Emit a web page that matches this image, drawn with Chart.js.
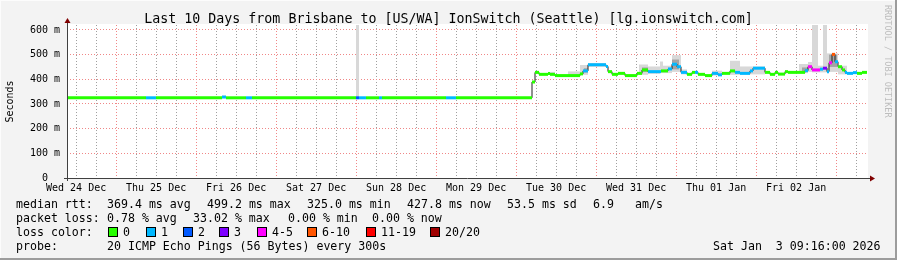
<!DOCTYPE html>
<html>
<head>
<meta charset="utf-8">
<script src="https://cdn.jsdelivr.net/npm/chart.js@4/dist/chart.umd.min.js"></script>
<style>
  body { margin: 0; background: #f3f3f3; }
  #wrap { position: relative; width: 897px; height: 260px; background: #f3f3f3; overflow: hidden; }
  #chart { position: absolute; left: 0; top: 0; }
  .t { position: absolute; font-family: 'DejaVu Sans Mono', monospace; color: #000; white-space: pre; }
  .leg { font-size: 11.6px; line-height: 14px; }
  .sw { position: absolute; width: 8px; height: 8px; border: 1px solid #000; }
  #mark { position: absolute; left: 881px; top: 5px; font-family: 'DejaVu Sans Mono', monospace;
          font-size: 8.5px; color: #bdbdbd; white-space: pre; transform-origin: 0 0; transform: translate(12px, 0) rotate(90deg); }
  #edgeR { position: absolute; right: 0; top: 0; width: 2px; height: 260px; background: #9c9c9c; }
  #edgeB { position: absolute; left: 0; bottom: 0; width: 897px; height: 2px; background: #9c9c9c; }
  #edgeT { position: absolute; left: 0; top: 0; width: 895px; height: 1px; background: #fcfcfc; }
  #edgeL { position: absolute; left: 0; top: 0; width: 1px; height: 258px; background: #fcfcfc; }
</style>
</head>
<body>
<div id="wrap">
  <canvas id="chart" width="897" height="260"></canvas>
  <div class="t" style="left:0;top:11px;width:897px;text-align:center;font-size:13.3px;line-height:16px">Last 10 Days from Brisbane to [US/WA] IonSwitch (Seattle) [lg.ionswitch.com]</div>
  <div id="mark">RRDTOOL / TOBI OETIKER</div>

  <div class="t leg" style="left:16px;top:197px">median rtt:</div>
  <div class="t leg" style="left:107px;top:197px">369.4 ms avg</div>
  <div class="t leg" style="left:207px;top:197px">499.2 ms max</div>
  <div class="t leg" style="left:307px;top:197px">325.0 ms min</div>
  <div class="t leg" style="left:407px;top:197px">427.8 ms now</div>
  <div class="t leg" style="left:507px;top:197px">53.5 ms sd</div>
  <div class="t leg" style="left:593px;top:197px">6.9</div>
  <div class="t leg" style="left:635px;top:197px">am/s</div>

  <div class="t leg" style="left:16px;top:211px">packet loss:</div>
  <div class="t leg" style="left:107px;top:211px">0.78 % avg</div>
  <div class="t leg" style="left:193px;top:211px">33.02 % max</div>
  <div class="t leg" style="left:288px;top:211px">0.00 % min</div>
  <div class="t leg" style="left:372px;top:211px">0.00 % now</div>

  <div class="t leg" style="left:16px;top:225px">loss color:</div>
  <div id="lossLegend"></div>

  <div class="t leg" style="left:16px;top:239px">probe:</div>
  <div class="t leg" style="left:107px;top:239px">20 ICMP Echo Pings (56 Bytes) every 300s</div>
  <div class="t leg" style="left:713px;top:239px">Sat Jan  3 09:16:00 2026</div>

  <div id="edgeT"></div><div id="edgeL"></div><div id="edgeR"></div><div id="edgeB"></div>
</div>
<script>
// time axis: hours since Wed 24 Dec 09:16, 10 days shown
const dayLabels = ['Wed 24 Dec', 'Thu 25 Dec', 'Fri 26 Dec', 'Sat 27 Dec', 'Sun 28 Dec',
                   'Mon 29 Dec', 'Tue 30 Dec', 'Wed 31 Dec', 'Thu 01 Jan', 'Fri 02 Jan'];
const firstNoon = 2.73;
const spanHours = 240;

const lossLabels = ['0', '1', '2', '3', '4-5', '6-10', '11-19', '20/20'];
const lossColors = ['#26ff00', '#00b8ff', '#0059ff', '#7e00ff', '#ff00ff', '#ff5500', '#ff0000', '#a00000'];

// median rtt (ms) steps: start hour, value, lost pings out of 20
const medTimes = [0, 23.7, 26.7, 46.5, 47.7, 53.7, 55.5, 86.7, 87.6, 89.7, 93.6, 94.5, 113.7, 116.7,
  139.5, 140.4, 141.6, 144.3, 144.9, 146.4, 153.9, 154.8, 156.3, 161.7, 162.3, 163.5, 165.3, 167.4,
  171.0, 172.5, 174.3, 178.2, 180.3, 181.5, 183.0, 184.2, 186.0, 187.5, 188.4, 189.3, 191.4, 193.5,
  195.3, 196.5, 198.9, 200.4, 201.9, 204.9, 205.8, 209.4, 210.9, 212.4, 213.3, 215.4, 216.3, 221.4,
  222.3, 223.5, 225.9, 226.8, 228.0, 228.6, 229.5, 230.4, 231.3, 232.5, 233.4, 234.0, 235.8, 237.0, 238.5];
const medValues = [325, 325, 325, 328, 325, 325, 325, 325, 325, 325, 325, 325, 325, 325,
  389, 428, 420, 423, 420, 415, 422, 434, 459, 452, 431, 420, 424, 415,
  424, 438, 431, 434, 442, 461, 451, 428, 420, 428, 428, 420, 415, 424,
  418, 424, 434, 428, 424, 434, 445, 428, 420, 428, 421, 431, 428, 435,
  451, 438, 441, 445, 431, 467, 501, 471, 451, 438, 428, 424, 427, 424, 428];
const medLoss = [0, 1, 0, 1, 0, 1, 0, 2, 1, 0, 1, 0, 1, 0,
  0, 0, 0, 0, 0, 0, 0, 1, 1, 1, 0, 0, 0, 0,
  0, 0, 1, 0, 1, 1, 1, 1, 0, 0, 1, 0, 0, 1,
  1, 0, 0, 1, 1, 1, 1, 0, 0, 0, 0, 0, 0, 1,
  4, 4, 1, 3, 1, 4, 7, 1, 0, 0, 1, 1, 1, 0, 0];

// smoke (spread of the 20 pings), outer light band
const smokeStart = [46.5, 86.7, 144.3, 150.3, 153.9, 156.3, 171.6, 174.3, 177.9, 178.8, 181.5, 184.2,
  193.5, 198.9, 201.9, 219.6, 222.3, 223.5, 225.3, 226.8, 228.0, 231.3];
const smokeEnd = [47.7, 87.6, 146.4, 153.9, 156.3, 161.7, 174.3, 177.9, 178.8, 181.5, 184.2, 186.0,
  196.5, 201.9, 209.4, 222.3, 223.5, 225.3, 226.8, 228.0, 231.3, 234.0];
const smokeLow = [325, 325, 418, 414, 418, 450, 418, 422, 425, 425, 430, 420,
  415, 418, 420, 425, 430, 428, 428, 428, 430, 420];
const smokeHigh = [334, 640, 430, 432, 458, 466, 460, 452, 472, 455, 498, 440,
  435, 475, 452, 462, 470, 640, 455, 640, 505, 455];

// smoke, inner dark band
const coreStart = [46.5, 155.0, 172.5, 181.5, 220.5, 228.6];
const coreEnd = [47.7, 156.3, 174.3, 183.6, 222.3, 231.0];
const coreLow = [326, 428, 430, 440, 432, 450];
const coreHigh = [332, 445, 448, 480, 448, 500];

function lossClass(n) {
  if (n <= 3) return n;
  if (n <= 5) return 4;
  if (n <= 10) return 5;
  if (n <= 19) return 6;
  return 7;
}

function blocks(starts, ends, vals) {
  const pts = [];
  for (let i = 0; i < starts.length; i++) {
    pts.push({x: starts[i], y: vals[i]}, {x: ends[i], y: vals[i]}, {x: ends[i], y: null});
  }
  return pts;
}

const medEnds = medTimes.slice(1).concat([spanHours]);
const medBlocks = blocks(medTimes, medEnds, medValues);
const medLine = medTimes.map((t, i) => ({x: t, y: medValues[i]})).concat([{x: spanHours, y: medValues[medValues.length - 1]}]);

document.getElementById('lossLegend').innerHTML = lossLabels.map((l, i) => {
  const sx = [108, 146, 183, 219, 257, 307, 366, 430][i];
  return '<div class="sw" style="left:' + sx + 'px;top:227px;background:' + lossColors[i] + '"></div>' +
         '<div class="t leg" style="left:' + (sx + 15) + 'px;top:225px">' + l + '</div>';
}).join('');

const majorGrid = 'rgb(240,135,135)';
const minorGrid = 'rgb(160,160,160)';

const plotBg = {
  id: 'plotBg',
  beforeDraw(chart) {
    const {ctx, chartArea: a} = chart;
    ctx.save();
    ctx.fillStyle = '#ffffff';
    ctx.fillRect(a.left, a.top - 1, a.right - a.left + 1, a.bottom - a.top + 1);
    ctx.restore();
  }
};

const arrows = {
  id: 'arrows',
  afterDraw(chart) {
    const {ctx, chartArea: a} = chart;
    const x0 = Math.round(a.left) + 0.5, y0 = Math.round(a.bottom) + 0.5;
    ctx.save();
    ctx.strokeStyle = '#404040';
    ctx.lineWidth = 1;
    ctx.beginPath();
    ctx.moveTo(x0, a.bottom + 3); ctx.lineTo(x0, a.top - 3);
    ctx.moveTo(a.left - 3, y0); ctx.lineTo(a.right + 4, y0);
    ctx.stroke();
    ctx.fillStyle = '#800000';
    ctx.beginPath();
    ctx.moveTo(x0 - 3, a.top - 2); ctx.lineTo(x0 + 3, a.top - 2); ctx.lineTo(x0, a.top - 7); ctx.closePath();
    ctx.fill();
    ctx.beginPath();
    ctx.moveTo(a.right + 3, y0 - 3); ctx.lineTo(a.right + 3, y0 + 3); ctx.lineTo(a.right + 8, y0); ctx.closePath();
    ctx.fill();
    ctx.restore();
  }
};

Chart.defaults.font.family = "'DejaVu Sans Mono', monospace";
Chart.defaults.color = '#000';

new Chart(document.getElementById('chart'), {
  type: 'line',
  data: {
    datasets: [
      {
        data: medBlocks,
        borderWidth: 3,
        borderCapStyle: 'butt',
        borderColor: '#26ff00',
        segment: { borderColor: ctx => lossColors[lossClass(medLoss[Math.floor(ctx.p0DataIndex / 3)])] },
        pointRadius: 0,
        spanGaps: false,
        fill: false
      },
      {
        data: medLine,
        stepped: true,
        borderWidth: 1,
        borderColor: '#202020',
        pointRadius: 0,
        fill: false
      },
      {
        data: blocks(coreStart, coreEnd, coreHigh),
        borderWidth: 0, pointRadius: 0, spanGaps: false,
        backgroundColor: '#a4a4a4', fill: '+1'
      },
      {
        data: blocks(coreStart, coreEnd, coreLow),
        borderWidth: 0, pointRadius: 0, spanGaps: false, fill: false
      },
      {
        data: blocks(smokeStart, smokeEnd, smokeHigh),
        borderWidth: 0, pointRadius: 0, spanGaps: false,
        backgroundColor: '#d8d8d8', fill: '+1'
      },
      {
        data: blocks(smokeStart, smokeEnd, smokeLow),
        borderWidth: 0, pointRadius: 0, spanGaps: false, fill: false
      }
    ]
  },
  options: {
    responsive: false,
    animation: false,
    devicePixelRatio: 1,
    layout: { padding: { left: 0, top: 25, right: 30, bottom: 62 } },
    plugins: { legend: { display: false }, tooltip: { enabled: false } },
    scales: {
      x: {
        type: 'linear',
        min: 0,
        max: spanHours,
        afterFit(scale) { scale.height = 20; },
        afterBuildTicks(scale) {
          const ticks = [];
          for (let k = 0; firstNoon + 6 * k < spanHours; k++) ticks.push({value: firstNoon + 6 * k});
          scale.ticks = ticks;
        },
        ticks: {
          autoSkip: false,
          maxRotation: 0,
          padding: 4,
          font: { size: 10 },
          callback: (v, i) => (i % 4 === 0 ? dayLabels[i / 4] : '')
        },
        grid: {
          drawTicks: false,
          color: ctx => (ctx.index % 4 === 2 ? majorGrid : minorGrid)
        },
        border: { display: false, dash: [1, 2] }
      },
      y: {
        min: 0,
        max: 620,
        afterFit(scale) { scale.width = 67; },
        afterBuildTicks(scale) {
          const ticks = [];
          for (let v = 0; v <= 600; v += 50) ticks.push({value: v});
          scale.ticks = ticks;
        },
        ticks: {
          padding: 7,
          font: { size: 10 },
          callback: v => (v % 100 === 0 ? (v === 0 ? '0  ' : v + ' m') : '')
        },
        grid: {
          drawTicks: false,
          color: ctx => (ctx.tick && ctx.tick.value % 100 === 0 ? majorGrid : minorGrid)
        },
        border: { display: false, dash: [1, 2] },
        title: { display: true, text: 'Seconds', font: { size: 10 }, padding: { top: 4, bottom: 0 } }
      }
    }
  },
  plugins: [plotBg, arrows]
});
</script>
</body>
</html>
